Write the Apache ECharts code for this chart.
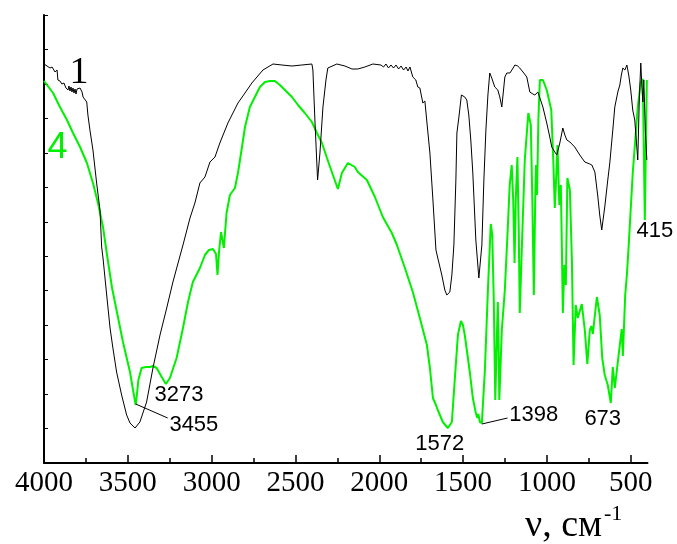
<!DOCTYPE html>
<html>
<head>
<meta charset="utf-8">
<title>IR spectra 1 and 4</title>
<script src="https://cdn.jsdelivr.net/npm/echarts@6/dist/echarts.min.js"></script>
<style>
    html, body { margin: 0; padding: 0; background: #fff; }
    #main { width: 677px; height: 544px; }
</style>
</head>
<body>
<div id="main"></div>
<script>
    // wavenumber, cm-1 / transmittance (arb. units) — curve 1 (black)
    var wave1 = [4000, 3982, 3964, 3952, 3934, 3922, 3917, 3905, 3893, 3881, 3869, 3863, 3857, 3851, 3845, 3839, 3833, 3827, 3821, 3815,
        3809, 3803, 3797, 3785, 3773, 3767, 3756, 3745, 3738, 3726, 3708, 3686, 3666, 3656, 3648, 3626, 3606, 3589, 3567, 3537,
        3507, 3487, 3457, 3428, 3388, 3350, 3308, 3268, 3231, 3171, 3129, 3100, 3070, 3040, 3010, 2980, 2951, 2903, 2843, 2801,
        2760, 2694, 2634, 2581, 2521, 2462, 2402, 2396, 2384, 2368, 2354, 2336, 2318, 2307, 2253, 2205, 2163, 2128, 2086, 2038,
        1990, 1975, 1960, 1945, 1930, 1915, 1900, 1885, 1870, 1855, 1840, 1829, 1817, 1800, 1782, 1770, 1758, 1740, 1728, 1716,
        1698, 1680, 1662, 1651, 1627, 1609, 1597, 1579, 1567, 1555, 1543, 1537, 1525, 1510, 1501, 1490, 1478, 1466, 1454, 1442,
        1424, 1406, 1388, 1376, 1364, 1352, 1341, 1329, 1311, 1293, 1281, 1269, 1251, 1239, 1221, 1209, 1191, 1174, 1162, 1138,
        1120, 1102, 1084, 1072, 1054, 1042, 1024, 1001, 983, 971, 953, 941, 923, 905, 893, 881, 863, 834, 804, 774,
        744, 732, 714, 696, 685, 673, 655, 637, 625, 607, 595, 577, 565, 556, 547, 535, 523, 512, 500, 488,
        476, 467, 458, 449, 440, 434, 428, 422, 413, 404];
    var trans1 = [399, 397, 395, 396, 391, 393, 383, 382, 379, 380, 375, 377, 373, 377, 372, 376, 371, 375, 370, 374,
        369, 374, 372, 375, 371, 366, 367, 361, 348, 333, 313, 280, 253, 216, 205, 168, 135, 115, 91, 68,
        48, 40, 35, 41, 61, 95, 128, 155, 181, 218, 245, 260, 280, 286, 301, 306, 320, 340, 360, 370,
        380, 393, 399, 398, 397, 398, 399, 393, 343, 283, 310, 356, 383, 395, 399, 397, 394, 394, 396, 399,
        398, 396, 399, 395, 398, 395, 398, 394, 397, 393, 396, 392, 396, 386, 383, 376, 375, 360, 362, 341,
        310, 263, 213, 205, 188, 173, 168, 171, 188, 218, 283, 330, 346, 368, 370, 366, 363, 348, 323, 290,
        223, 185, 218, 283, 333, 368, 390, 385, 376, 373, 366, 356, 386, 390, 390, 393, 398, 397, 395, 390,
        386, 371, 369, 368, 371, 365, 356, 340, 326, 316, 311, 308, 320, 335, 328, 323, 321, 316, 308, 301,
        299, 298, 291, 266, 248, 233, 256, 283, 300, 333, 356, 371, 378, 388, 395, 393, 398, 388, 373, 353,
        343, 323, 303, 363, 400, 378, 361, 383, 333, 303];

    // curve 4 (green)
    var wave4 = [4000, 3946, 3905, 3863, 3827, 3785, 3744, 3708, 3678, 3648, 3624, 3594, 3565, 3529, 3487, 3469, 3453, 3446, 3437, 3418,
        3392, 3368, 3350, 3328, 3298, 3273, 3249, 3209, 3171, 3141, 3112, 3070, 3040, 3016, 2992, 2974, 2965, 2956, 2944, 2936,
        2927, 2911, 2891, 2861, 2843, 2819, 2801, 2772, 2742, 2712, 2682, 2652, 2623, 2593, 2563, 2521, 2485, 2444, 2402, 2372,
        2342, 2312, 2283, 2247, 2223, 2187, 2146, 2128, 2074, 2026, 1979, 1925, 1895, 1847, 1800, 1758, 1716, 1698, 1680, 1662,
        1651, 1621, 1591, 1567, 1549, 1531, 1513, 1501, 1490, 1460, 1442, 1424, 1415, 1409, 1400, 1388, 1370, 1352, 1335, 1326,
        1317, 1308, 1299, 1293, 1287, 1284, 1269, 1251, 1234, 1222, 1210, 1201, 1193, 1186, 1176, 1168, 1162, 1150, 1132, 1111,
        1096, 1087, 1078, 1069, 1065, 1059, 1051, 1042, 1024, 1001, 974, 962, 953, 944, 937, 926, 917, 911, 905, 896,
        887, 878, 863, 851, 841, 828, 816, 792, 774, 759, 744, 735, 726, 702, 685, 670, 655, 637, 619, 607,
        595, 577, 554, 547, 533, 523, 512, 488, 458, 440, 428, 416, 404];
    var trans4 = [382, 370, 356, 343, 330, 316, 300, 280, 260, 236, 208, 175, 151, 121, 91, 73, 58, 68, 83, 95,
        96, 96, 97, 95, 86, 79, 85, 105, 135, 161, 181, 195, 208, 213, 214, 209, 188, 211, 231, 231,
        215, 250, 268, 275, 290, 316, 336, 356, 366, 376, 381, 382, 382, 378, 373, 366, 358, 350, 341, 330,
        320, 305, 291, 274, 290, 300, 296, 291, 283, 266, 246, 230, 218, 195, 171, 145, 118, 95, 65, 58,
        53, 41, 35, 41, 85, 128, 142, 138, 128, 91, 65, 50, 45, 49, 41, 40, 93, 173, 239, 228,
        163, 63, 123, 161, 103, 63, 133, 173, 233, 278, 298, 263, 200, 263, 306, 233, 150, 213, 303, 350,
        338, 263, 168, 273, 298, 268, 343, 383, 383, 373, 353, 303, 255, 288, 318, 258, 278, 218, 150, 198,
        178, 285, 273, 203, 98, 158, 145, 159, 133, 99, 133, 137, 129, 166, 148, 105, 88, 78, 60, 96,
        75, 101, 134, 107, 168, 188, 218, 290, 356, 381, 384, 243, 383];

    var xTicks = [500, 1000, 1500, 2000, 2500, 3000, 3500, 4000];
    var xMinorTicks = [750, 1250, 1750, 2250, 2750, 3250, 3750];
    var peaks = ['3455', '3273', '1572', '1398', '673', '415'];

    function pairs(xs, ys) {
        return xs.map(function (x, i) { return [x, ys[i]]; });
    }

    var sans = '"Liberation Sans", Arial, sans-serif';
    var serif = '"Liberation Serif", "Times New Roman", serif';

    function tag(text, coord, opts) {
        opts = opts || {};
        return {
            coord: coord,
            symbol: 'rect',
            symbolSize: 1,
            itemStyle: { color: 'rgba(0,0,0,0)' },
            label: {
                show: true,
                formatter: text,
                position: 'inside',
                offset: opts.offset || [0, 0],
                color: opts.color || '#000',
                fontFamily: opts.font || sans,
                fontSize: opts.size || 22
            }
        };
    }

    var myChart = echarts.init(document.getElementById('main'), null, { renderer: 'canvas' });

    var option = {
        animation: false,
        backgroundColor: '#fff',
        grid: { left: 44, right: 29.5, top: 15, bottom: 81 },
        xAxis: [
            {
                type: 'value',
                inverse: true,
                min: 400,
                max: 4000,
                position: 'bottom',
                splitLine: { show: false },
                axisLine: { show: true, onZero: false, lineStyle: { color: '#000', width: 2 } },
                axisTick: { show: true, inside: true, length: 8, customValues: xTicks, lineStyle: { color: '#000', width: 1.5 } },
                axisLabel: {
                    show: true,
                    customValues: xTicks,
                    formatter: function (v) { return String(v); },
                    color: '#000',
                    fontFamily: serif,
                    fontSize: 29,
                    margin: 6
                }
            },
            {
                type: 'value',
                inverse: true,
                min: 400,
                max: 4000,
                position: 'bottom',
                splitLine: { show: false },
                axisLine: { show: false },
                axisTick: { show: true, inside: true, length: 5, customValues: xMinorTicks, lineStyle: { color: '#000', width: 1.5 } },
                axisLabel: { show: false }
            }
        ],
        yAxis: {
            type: 'value',
            min: 0,
            max: 448,
            interval: 448 / 13,
            splitLine: { show: false },
            axisLine: { show: true, onZero: false, lineStyle: { color: '#000', width: 2 } },
            axisTick: { show: true, inside: true, length: 4, lineStyle: { color: '#000', width: 1 } },
            axisLabel: { show: false }
        },
        series: [
            {
                name: '4',
                type: 'line',
                data: pairs(wave4, trans4),
                showSymbol: false,
                lineStyle: { color: '#00f000', width: 2 },
                z: 2,
                markLine: {
                    silent: true,
                    symbol: 'none',
                    label: { show: false },
                    lineStyle: { color: '#000', width: 1, type: 'solid' },
                    data: [
                        [{ coord: [3453, 59] }, { coord: [3262, 45] }],
                        [{ coord: [1388, 39] }, { coord: [1235, 45] }]
                    ]
                },
                markPoint: {
                    silent: true,
                    data: [
                        tag(peaks[0], [3106, 38]),
                        tag(peaks[1], [3195, 68]),
                        tag(peaks[2], [1639, 19]),
                        tag(peaks[3], [1078, 48]),
                        tag(peaks[4], [667, 44]),
                        tag(peaks[5], [404, 232], { offset: [8, 0] }),
                        tag('4', [3920, 315], { color: '#00f000', size: 36 })
                    ]
                }
            },
            {
                name: '1',
                type: 'line',
                data: pairs(wave1, trans1),
                showSymbol: false,
                lineStyle: { color: '#000', width: 1 },
                z: 3,
                markPoint: {
                    silent: true,
                    data: [
                        tag('1', [3791, 390], { font: serif, size: 38 })
                    ]
                }
            }
        ],
        graphic: [
            { type: 'text', x: 525, y: 526, style: { text: 'ν, см', font: '38px ' + serif, fill: '#000', verticalAlign: 'middle' } },
            { type: 'text', x: 604, y: 514, style: { text: '-1', font: '22px ' + serif, fill: '#000', verticalAlign: 'middle' } }
        ]
    };

    myChart.setOption(option);
</script>
</body>
</html>
